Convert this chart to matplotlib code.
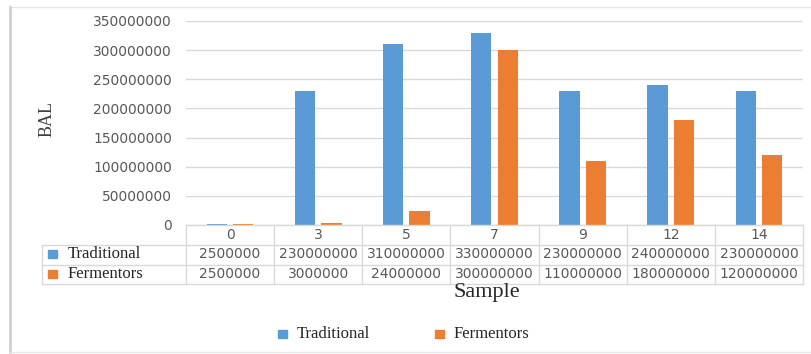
import matplotlib
matplotlib.use("Agg")
import matplotlib.pyplot as plt
from matplotlib.lines import Line2D
from matplotlib.patches import Rectangle
from matplotlib.transforms import blended_transform_factory

# Data
samples = ["0", "3", "5", "7", "9", "12", "14"]
traditional = [2500000, 230000000, 310000000, 330000000, 230000000, 240000000, 230000000]
fermentors = [2500000, 3000000, 24000000, 300000000, 110000000, 180000000, 120000000]
series_names = ["Traditional", "Fermentors"]
yticks = [0, 50000000, 100000000, 150000000, 200000000, 250000000, 300000000, 350000000]

BLUE = "#5b9bd5"
ORANGE = "#ed7d31"
GRID = "#d9d9d9"
TXT = "#595959"
SERIF = "Liberation Serif"

W, H = 812, 354
fig = plt.figure(figsize=(W / 100, H / 100), dpi=100)


def fx(x):
    return x / W


def fy(y):
    return 1 - y / H


# Plot area
left_px, right_px, top_px, bot_px = 186, 803, 21, 225
ax = fig.add_axes([fx(left_px), fy(bot_px), fx(right_px - left_px), (bot_px - top_px) / H])

n = len(samples)
xs = list(range(n))
bw = 0.23
off = 0.15
ax.bar([x - off for x in xs], traditional, width=bw, color=BLUE, zorder=3)
ax.bar([x + off for x in xs], fermentors, width=bw, color=ORANGE, zorder=3)

ax.set_xlim(-0.5, n - 0.5)
ax.set_ylim(0, max(yticks))
ax.set_yticks(yticks)
ax.set_yticklabels([str(v) for v in yticks], color=TXT, fontsize=10)
ax.tick_params(axis="y", length=0, pad=10)
ax.set_xticks([])
ax.grid(axis="y", color=GRID, linewidth=1, zorder=0)
for s in ax.spines.values():
    s.set_visible(False)
ax.set_facecolor("none")

# Y axis title
fig.text(fx(47), fy(119), "BAL", rotation=90, ha="center", va="center",
         fontsize=13, family=SERIF, color="#404040")


def fline(x0, y0, x1, y1, color=GRID, lw=1.0):
    fig.add_artist(Line2D([fx(x0), fx(x1)], [fy(y0), fy(y1)],
                          transform=fig.transFigure, color=color, linewidth=lw))


# Data table under the axis
col_edges = [left_px + i * (right_px - left_px) / n for i in range(n + 1)]
label_left = 42
row_lines = [245, 265, 284]
fline(left_px, 225, right_px, 225)
for y in row_lines:
    fline(label_left, y, right_px, y)
fline(label_left, 245, label_left, 284)
for x in col_edges:
    fline(x, 225, x, 284)

tr = blended_transform_factory(ax.transData, fig.transFigure)
header_y, row_ys = 235, [254, 274]
for i, s in enumerate(samples):
    fig.text(i, fy(header_y), s, transform=tr, ha="center", va="center",
             fontsize=10, color=TXT)
for vals, y in zip([traditional, fermentors], row_ys):
    for i, v in enumerate(vals):
        fig.text(i, fy(y), str(v), transform=tr, ha="center", va="center",
                 fontsize=10, color=TXT)

for name, color, y in zip(series_names, [BLUE, ORANGE], row_ys):
    fig.add_artist(Rectangle((fx(48), fy(y + 4)), fx(9), 8 / H,
                             transform=fig.transFigure, color=color))
    fig.text(fx(68), fy(y), name, ha="left", va="center",
             fontsize=12, family=SERIF, color="#262626")

# X axis title
fig.text(fx(487), fy(292), "Sample", ha="center", va="center",
         fontsize=16, family=SERIF, color="#262626")

# Legend
for name, color, x in zip(series_names, [BLUE, ORANGE], [278, 435]):
    fig.add_artist(Rectangle((fx(x), fy(338)), fx(9), 8 / H,
                             transform=fig.transFigure, color=color))
    fig.text(fx(x + 19), fy(334), name, ha="left", va="center",
             fontsize=12, family=SERIF, color="#262626")

# Chart frame
fline(10, 7, W, 7, color="#e6e6e6")
fline(10, 7, 10, 352, color="#d0d0d0", lw=2)
fline(10, 352, W, 352, color="#e6e6e6")

fig.savefig("out.png", dpi=100)
